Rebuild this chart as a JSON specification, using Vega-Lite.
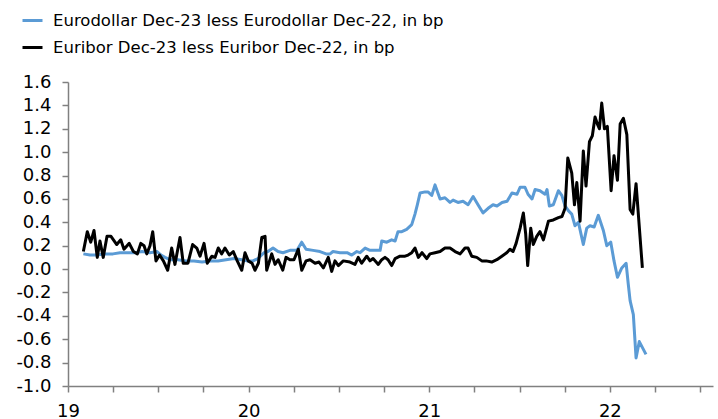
{
  "$schema": "https://vega.github.io/schema/vega-lite/v6.json",
  "width": 645,
  "height": 304,
  "autosize": {"type": "none"},
  "padding": {"left": 68, "top": 82, "right": 5, "bottom": 33},
  "background": "white",
  "config": {
    "view": {"stroke": null},
    "font": "DejaVu Sans",
    "axis": {
      "labelOverlap": false, "labelFlush": false, "grid": false, "title": null,
      "tickSize": 6, "tickWidth": 1.5, "tickColor": "#808080",
      "domainColor": "#808080", "domainWidth": 1.5,
      "labelFont": "DejaVu Sans", "labelFontSize": 18, "labelColor": "#000000"
    },
    "axisX": {"labelPadding": 10},
    "axisY": {"labelPadding": 11}
  },
  "layer": [
    {
      "data": {"values": [
        {"s":"ED","t":19.085,"v":0.13},{"s":"ED","t":19.122,"v":0.12},{"s":"ED","t":19.161,"v":0.12},{"s":"ED","t":19.205,"v":0.13},{"s":"ED","t":19.249,"v":0.13},{"s":"ED","t":19.288,"v":0.14},{"s":"ED","t":19.332,"v":0.14},{"s":"ED","t":19.371,"v":0.14},{"s":"ED","t":19.410,"v":0.15},{"s":"ED","t":19.454,"v":0.14},{"s":"ED","t":19.493,"v":0.15},{"s":"ED","t":19.515,"v":0.12},{"s":"ED","t":19.537,"v":0.10},{"s":"ED","t":19.565,"v":0.08},{"s":"ED","t":19.609,"v":0.08},{"s":"ED","t":19.653,"v":0.07},{"s":"ED","t":19.698,"v":0.07},{"s":"ED","t":19.742,"v":0.06},{"s":"ED","t":19.786,"v":0.07},{"s":"ED","t":19.831,"v":0.07},{"s":"ED","t":19.875,"v":0.08},{"s":"ED","t":19.919,"v":0.09},{"s":"ED","t":19.962,"v":0.08},{"s":"ED","t":19.991,"v":0.07},{"s":"ED","t":20.024,"v":0.07},{"s":"ED","t":20.052,"v":0.09},{"s":"ED","t":20.085,"v":0.14},{"s":"ED","t":20.107,"v":0.15},{"s":"ED","t":20.135,"v":0.18},{"s":"ED","t":20.163,"v":0.15},{"s":"ED","t":20.190,"v":0.14},{"s":"ED","t":20.229,"v":0.16},{"s":"ED","t":20.268,"v":0.16},{"s":"ED","t":20.294,"v":0.23},{"s":"ED","t":20.318,"v":0.17},{"s":"ED","t":20.357,"v":0.16},{"s":"ED","t":20.395,"v":0.15},{"s":"ED","t":20.429,"v":0.13},{"s":"ED","t":20.451,"v":0.13},{"s":"ED","t":20.467,"v":0.15},{"s":"ED","t":20.506,"v":0.14},{"s":"ED","t":20.545,"v":0.14},{"s":"ED","t":20.571,"v":0.12},{"s":"ED","t":20.599,"v":0.15},{"s":"ED","t":20.617,"v":0.14},{"s":"ED","t":20.645,"v":0.18},{"s":"ED","t":20.672,"v":0.16},{"s":"ED","t":20.700,"v":0.16},{"s":"ED","t":20.728,"v":0.16},{"s":"ED","t":20.737,"v":0.24},{"s":"ED","t":20.765,"v":0.23},{"s":"ED","t":20.792,"v":0.25},{"s":"ED","t":20.811,"v":0.24},{"s":"ED","t":20.827,"v":0.32},{"s":"ED","t":20.848,"v":0.32},{"s":"ED","t":20.875,"v":0.34},{"s":"ED","t":20.903,"v":0.38},{"s":"ED","t":20.921,"v":0.47},{"s":"ED","t":20.934,"v":0.55},{"s":"ED","t":20.949,"v":0.65},{"s":"ED","t":20.977,"v":0.66},{"s":"ED","t":20.993,"v":0.66},{"s":"ED","t":21.014,"v":0.63},{"s":"ED","t":21.032,"v":0.72},{"s":"ED","t":21.060,"v":0.60},{"s":"ED","t":21.087,"v":0.61},{"s":"ED","t":21.115,"v":0.57},{"s":"ED","t":21.132,"v":0.59},{"s":"ED","t":21.159,"v":0.57},{"s":"ED","t":21.187,"v":0.58},{"s":"ED","t":21.215,"v":0.55},{"s":"ED","t":21.243,"v":0.62},{"s":"ED","t":21.270,"v":0.55},{"s":"ED","t":21.298,"v":0.48},{"s":"ED","t":21.326,"v":0.52},{"s":"ED","t":21.353,"v":0.55},{"s":"ED","t":21.375,"v":0.54},{"s":"ED","t":21.403,"v":0.57},{"s":"ED","t":21.431,"v":0.58},{"s":"ED","t":21.458,"v":0.65},{"s":"ED","t":21.486,"v":0.64},{"s":"ED","t":21.503,"v":0.70},{"s":"ED","t":21.530,"v":0.70},{"s":"ED","t":21.547,"v":0.64},{"s":"ED","t":21.569,"v":0.60},{"s":"ED","t":21.586,"v":0.68},{"s":"ED","t":21.613,"v":0.67},{"s":"ED","t":21.641,"v":0.64},{"s":"ED","t":21.652,"v":0.68},{"s":"ED","t":21.665,"v":0.54},{"s":"ED","t":21.687,"v":0.55},{"s":"ED","t":21.715,"v":0.67},{"s":"ED","t":21.734,"v":0.63},{"s":"ED","t":21.752,"v":0.54},{"s":"ED","t":21.770,"v":0.50},{"s":"ED","t":21.789,"v":0.47},{"s":"ED","t":21.807,"v":0.37},{"s":"ED","t":21.826,"v":0.40},{"s":"ED","t":21.853,"v":0.21},{"s":"ED","t":21.872,"v":0.35},{"s":"ED","t":21.890,"v":0.37},{"s":"ED","t":21.913,"v":0.36},{"s":"ED","t":21.936,"v":0.46},{"s":"ED","t":21.964,"v":0.33},{"s":"ED","t":21.983,"v":0.20},{"s":"ED","t":22.005,"v":0.23},{"s":"ED","t":22.023,"v":0.07},{"s":"ED","t":22.042,"v":-0.07},{"s":"ED","t":22.066,"v":0.01},{"s":"ED","t":22.090,"v":0.05},{"s":"ED","t":22.102,"v":-0.13},{"s":"ED","t":22.112,"v":-0.27},{"s":"ED","t":22.130,"v":-0.39},{"s":"ED","t":22.145,"v":-0.76},{"s":"ED","t":22.163,"v":-0.62},{"s":"ED","t":22.200,"v":-0.73},
        {"s":"EB","t":19.085,"v":0.15},{"s":"EB","t":19.107,"v":0.32},{"s":"EB","t":19.126,"v":0.23},{"s":"EB","t":19.144,"v":0.33},{"s":"EB","t":19.162,"v":0.10},{"s":"EB","t":19.177,"v":0.24},{"s":"EB","t":19.195,"v":0.10},{"s":"EB","t":19.216,"v":0.28},{"s":"EB","t":19.238,"v":0.28},{"s":"EB","t":19.270,"v":0.21},{"s":"EB","t":19.292,"v":0.25},{"s":"EB","t":19.310,"v":0.17},{"s":"EB","t":19.339,"v":0.22},{"s":"EB","t":19.362,"v":0.15},{"s":"EB","t":19.384,"v":0.13},{"s":"EB","t":19.403,"v":0.22},{"s":"EB","t":19.421,"v":0.20},{"s":"EB","t":19.436,"v":0.13},{"s":"EB","t":19.454,"v":0.20},{"s":"EB","t":19.469,"v":0.32},{"s":"EB","t":19.487,"v":0.07},{"s":"EB","t":19.507,"v":0.12},{"s":"EB","t":19.528,"v":0.07},{"s":"EB","t":19.552,"v":-0.01},{"s":"EB","t":19.574,"v":0.18},{"s":"EB","t":19.592,"v":0.04},{"s":"EB","t":19.620,"v":0.27},{"s":"EB","t":19.638,"v":0.05},{"s":"EB","t":19.664,"v":0.05},{"s":"EB","t":19.690,"v":0.21},{"s":"EB","t":19.713,"v":0.18},{"s":"EB","t":19.731,"v":0.11},{"s":"EB","t":19.753,"v":0.22},{"s":"EB","t":19.771,"v":0.05},{"s":"EB","t":19.796,"v":0.11},{"s":"EB","t":19.814,"v":0.10},{"s":"EB","t":19.832,"v":0.18},{"s":"EB","t":19.851,"v":0.13},{"s":"EB","t":19.869,"v":0.18},{"s":"EB","t":19.893,"v":0.12},{"s":"EB","t":19.915,"v":0.15},{"s":"EB","t":19.937,"v":0.07},{"s":"EB","t":19.962,"v":-0.01},{"s":"EB","t":19.980,"v":0.14},{"s":"EB","t":19.998,"v":0.07},{"s":"EB","t":20.019,"v":0.05},{"s":"EB","t":20.035,"v":-0.01},{"s":"EB","t":20.054,"v":0.05},{"s":"EB","t":20.073,"v":0.27},{"s":"EB","t":20.091,"v":0.28},{"s":"EB","t":20.100,"v":-0.01},{"s":"EB","t":20.128,"v":0.13},{"s":"EB","t":20.146,"v":0.04},{"s":"EB","t":20.164,"v":0.08},{"s":"EB","t":20.189,"v":-0.01},{"s":"EB","t":20.207,"v":0.10},{"s":"EB","t":20.229,"v":0.08},{"s":"EB","t":20.251,"v":0.08},{"s":"EB","t":20.275,"v":0.17},{"s":"EB","t":20.294,"v":-0.01},{"s":"EB","t":20.318,"v":0.07},{"s":"EB","t":20.340,"v":0.08},{"s":"EB","t":20.368,"v":0.05},{"s":"EB","t":20.390,"v":0.06},{"s":"EB","t":20.414,"v":0.01},{"s":"EB","t":20.441,"v":0.10},{"s":"EB","t":20.460,"v":-0.02},{"s":"EB","t":20.478,"v":0.07},{"s":"EB","t":20.497,"v":0.03},{"s":"EB","t":20.524,"v":0.07},{"s":"EB","t":20.561,"v":0.06},{"s":"EB","t":20.589,"v":0.04},{"s":"EB","t":20.607,"v":0.10},{"s":"EB","t":20.626,"v":0.05},{"s":"EB","t":20.654,"v":0.11},{"s":"EB","t":20.672,"v":0.07},{"s":"EB","t":20.689,"v":0.09},{"s":"EB","t":20.718,"v":0.04},{"s":"EB","t":20.737,"v":0.08},{"s":"EB","t":20.755,"v":0.10},{"s":"EB","t":20.772,"v":0.08},{"s":"EB","t":20.792,"v":0.03},{"s":"EB","t":20.811,"v":0.09},{"s":"EB","t":20.838,"v":0.11},{"s":"EB","t":20.866,"v":0.11},{"s":"EB","t":20.883,"v":0.12},{"s":"EB","t":20.903,"v":0.14},{"s":"EB","t":20.921,"v":0.18},{"s":"EB","t":20.940,"v":0.10},{"s":"EB","t":20.960,"v":0.14},{"s":"EB","t":20.986,"v":0.09},{"s":"EB","t":21.004,"v":0.13},{"s":"EB","t":21.032,"v":0.14},{"s":"EB","t":21.060,"v":0.15},{"s":"EB","t":21.087,"v":0.18},{"s":"EB","t":21.115,"v":0.18},{"s":"EB","t":21.143,"v":0.15},{"s":"EB","t":21.171,"v":0.13},{"s":"EB","t":21.198,"v":0.18},{"s":"EB","t":21.215,"v":0.18},{"s":"EB","t":21.235,"v":0.11},{"s":"EB","t":21.263,"v":0.10},{"s":"EB","t":21.291,"v":0.07},{"s":"EB","t":21.315,"v":0.07},{"s":"EB","t":21.346,"v":0.06},{"s":"EB","t":21.374,"v":0.08},{"s":"EB","t":21.402,"v":0.11},{"s":"EB","t":21.429,"v":0.14},{"s":"EB","t":21.447,"v":0.17},{"s":"EB","t":21.464,"v":0.15},{"s":"EB","t":21.481,"v":0.22},{"s":"EB","t":21.503,"v":0.35},{"s":"EB","t":21.521,"v":0.48},{"s":"EB","t":21.534,"v":0.30},{"s":"EB","t":21.545,"v":0.03},{"s":"EB","t":21.562,"v":0.35},{"s":"EB","t":21.576,"v":0.21},{"s":"EB","t":21.595,"v":0.28},{"s":"EB","t":21.613,"v":0.32},{"s":"EB","t":21.632,"v":0.25},{"s":"EB","t":21.660,"v":0.41},{"s":"EB","t":21.687,"v":0.42},{"s":"EB","t":21.715,"v":0.44},{"s":"EB","t":21.735,"v":0.45},{"s":"EB","t":21.752,"v":0.52},{"s":"EB","t":21.767,"v":0.95},{"s":"EB","t":21.789,"v":0.82},{"s":"EB","t":21.804,"v":0.55},{"s":"EB","t":21.817,"v":0.74},{"s":"EB","t":21.835,"v":0.41},{"s":"EB","t":21.853,"v":1.01},{"s":"EB","t":21.868,"v":0.71},{"s":"EB","t":21.887,"v":1.09},{"s":"EB","t":21.903,"v":1.14},{"s":"EB","t":21.918,"v":1.30},{"s":"EB","t":21.931,"v":1.24},{"s":"EB","t":21.942,"v":1.20},{"s":"EB","t":21.955,"v":1.42},{"s":"EB","t":21.970,"v":1.20},{"s":"EB","t":21.986,"v":1.22},{"s":"EB","t":22.007,"v":0.67},{"s":"EB","t":22.023,"v":0.97},{"s":"EB","t":22.042,"v":0.76},{"s":"EB","t":22.057,"v":1.24},{"s":"EB","t":22.075,"v":1.29},{"s":"EB","t":22.094,"v":1.15},{"s":"EB","t":22.112,"v":0.51},{"s":"EB","t":22.127,"v":0.47},{"s":"EB","t":22.145,"v":0.73},{"s":"EB","t":22.180,"v":0.01}
      ]},
      "mark": {"type": "line", "strokeWidth": 3, "strokeJoin": "round"},
      "encoding": {
        "x": {
          "field": "t", "type": "quantitative",
          "scale": {"domain": [19, 22.571], "nice": false, "zero": false},
          "axis": {
            "values": [19, 19.25, 19.5, 19.75, 20, 20.25, 20.5, 20.75, 21, 21.25, 21.5, 21.75, 22, 22.25, 22.5],
            "labelExpr": "datum.value == floor(datum.value) ? format(datum.value, 'd') : ''"
          }
        },
        "y": {
          "field": "v", "type": "quantitative",
          "scale": {"domain": [-1, 1.6], "nice": false, "zero": false},
          "axis": {
            "values": [-1, -0.8, -0.6, -0.4, -0.2, 0, 0.2, 0.4, 0.6, 0.8, 1, 1.2, 1.4, 1.6],
            "labelExpr": "(datum.value < 0 ? '-' : '') + format(abs(datum.value), '.1f')"
          }
        },
        "color": {
          "field": "s", "type": "nominal",
          "scale": {"domain": ["ED", "EB"], "range": ["#5b9bd5", "#000000"]},
          "legend": {
            "title": null, "orient": "none", "legendX": -47, "legendY": -73,
            "symbolType": "stroke", "symbolSize": 400, "symbolStrokeWidth": 3,
            "labelFont": "DejaVu Sans", "labelFontSize": 16.5, "labelColor": "#000000",
            "labelOffset": 9, "rowPadding": 7, "labelLimit": 700,
            "labelExpr": "datum.label == 'ED' ? 'Eurodollar Dec-23 less Eurodollar Dec-22, in bp' : 'Euribor Dec-23 less Euribor Dec-22, in bp'"
          }
        }
      }
    },
    {
      "mark": {"type": "rule", "color": "#8a9696", "strokeWidth": 1.5},
      "encoding": {
        "x": {
          "datum": 19, "type": "quantitative",
          "axis": {
            "values": [19, 19.25, 19.5, 19.75, 20, 20.25, 20.5, 20.75, 21, 21.25, 21.5, 21.75, 22, 22.25, 22.5],
            "labelExpr": "datum.value == floor(datum.value) ? format(datum.value, 'd') : ''"
          }
        },
        "x2": {"datum": 22.46},
        "y": {
          "datum": 0, "type": "quantitative",
          "axis": {
            "values": [-1, -0.8, -0.6, -0.4, -0.2, 0, 0.2, 0.4, 0.6, 0.8, 1, 1.2, 1.4, 1.6],
            "labelExpr": "(datum.value < 0 ? '-' : '') + format(abs(datum.value), '.1f')"
          }
        }
      }
    }
  ]
}
